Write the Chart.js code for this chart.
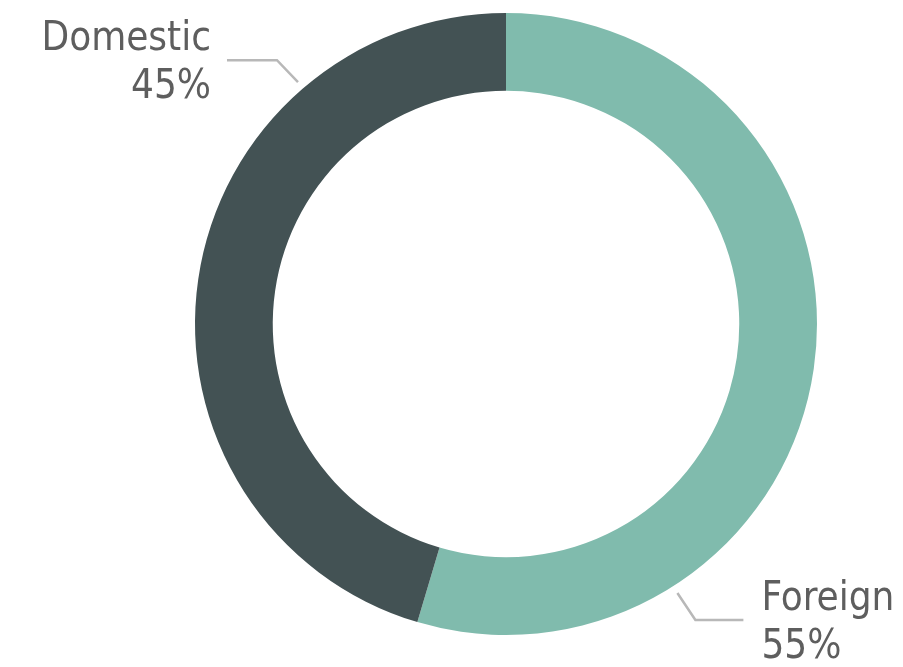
<!DOCTYPE html>
<html>
<head>
<meta charset="utf-8">
<title>Domestic vs Foreign</title>
<script src="https://cdn.jsdelivr.net/npm/chart.js@4.4.0/dist/chart.umd.min.js"></script>
<style>
    html, body { margin: 0; padding: 0; background: #ffffff; }
    #wrap { width: 903px; height: 667px; }
</style>
</head>
<body>
<div id="wrap"><canvas id="donut" width="903" height="667"></canvas></div>
<script>
const categories = ['Foreign', 'Domestic'];
const shares = [54.6, 45.4];
const colors = ['#80BBAD', '#435254'];

// Where each label sits (angle clockwise from top, in degrees) and how its leader bends
const labelSpots = [
    { angle: 147.5, elbowX: 18, elbowY: 27, run: 48, side: 'right' },
    { angle: 319.3, elbowX: -21, elbowY: -22, run: -50, side: 'left' }
];

// Draws the category / percent labels with leader lines
const leaderLabels = {
    id: 'leaderLabels',
    afterDraw(chart) {
        const ctx = chart.ctx;
        const meta = chart.getDatasetMeta(0);
        const total = shares.reduce((a, b) => a + b, 0);
        meta.data.forEach((arc, i) => {
            const spot = labelSpots[i];
            const rad = spot.angle * Math.PI / 180;
            const r = arc.outerRadius + 8;
            const ax = arc.x + Math.sin(rad) * r;
            const ay = arc.y - Math.cos(rad) * r;
            const ex = ax + spot.elbowX;
            const ey = ay + spot.elbowY;
            const endX = ex + spot.run;

            ctx.save();
            ctx.strokeStyle = '#B8B8B8';
            ctx.lineWidth = 2.5;
            ctx.beginPath();
            ctx.moveTo(ax, ay);
            ctx.lineTo(ex, ey);
            ctx.lineTo(endX, ey);
            ctx.stroke();

            ctx.fillStyle = '#5E5E5E';
            ctx.font = '40px "DejaVu Sans Condensed", "DejaVu Sans", sans-serif';
            ctx.textBaseline = 'alphabetic';
            let tx;
            if (spot.side === 'left') {
                ctx.textAlign = 'right';
                tx = endX - 16;
            } else {
                ctx.textAlign = 'left';
                tx = endX + 18;
            }
            const pct = Math.round(shares[i] / total * 100);
            ctx.fillText(categories[i], tx, ey - 10);
            ctx.fillText(pct + '%', tx, ey + 38);
            ctx.restore();
        });
    }
};

document.addEventListener('DOMContentLoaded', () => {
    const ctx = document.getElementById('donut').getContext('2d');
    new Chart(ctx, {
        type: 'doughnut',
        data: {
            labels: categories,
            datasets: [{
                data: shares,
                backgroundColor: colors,
                borderWidth: 0
            }]
        },
        options: {
            responsive: false,
            animation: false,
            cutout: '75%',
            layout: { padding: { top: 13, bottom: 32, left: 195, right: 86 } },
            plugins: {
                legend: { display: false },
                tooltip: { enabled: false }
            }
        },
        plugins: [leaderLabels]
    });
});
</script>
</body>
</html>
